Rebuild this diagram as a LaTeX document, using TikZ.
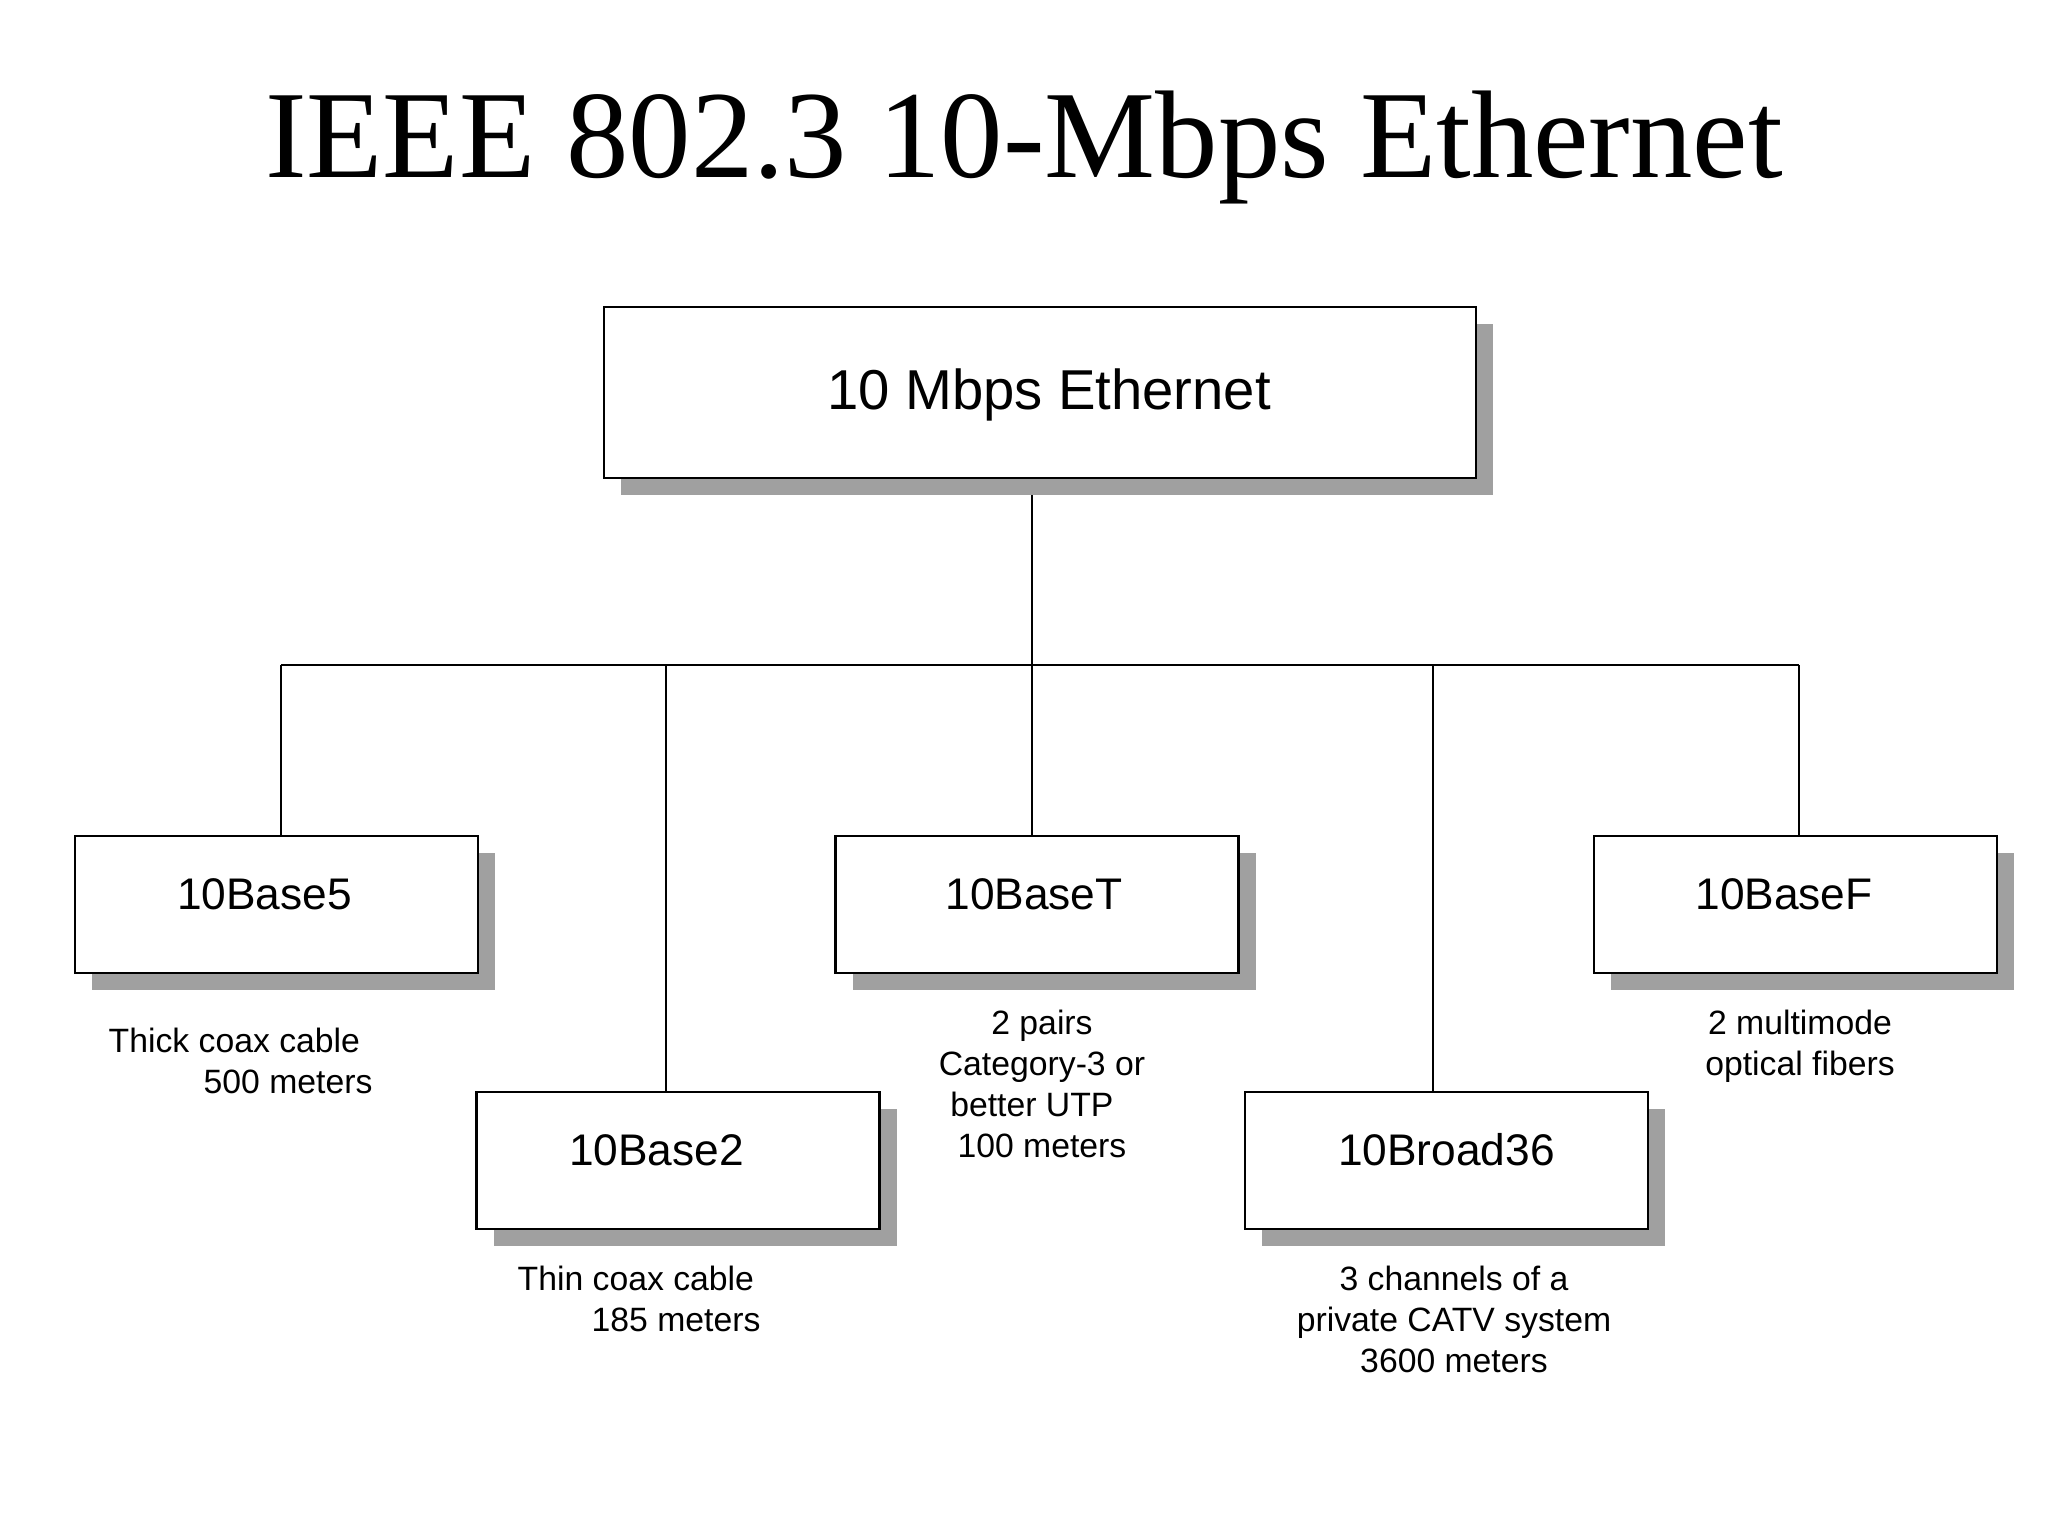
\documentclass[tikz,border=0pt]{standalone}
\usepackage{fontspec}
\setmainfont{Liberation Sans}
\newfontfamily\titlefont{Liberation Serif}
\usetikzlibrary{shadows, backgrounds}
\definecolor{shadowgray}{RGB}{160,160,160}

\begin{document}
\begin{tikzpicture}[x = 0.1mm, y = -0.1mm,
    unitbox/.style = {draw, line width = 0.75pt, fill = white, inner sep = 0pt,
        minimum width = 40.3mm, minimum height = 13.7mm,
        font = \fontsize{12.6}{15}\selectfont, text height = 3.2mm, text depth = 2.3mm,
        general shadow = {fill = shadowgray, shadow xshift = 1.7mm, shadow yshift = -1.7mm}},
    note/.style = {font = \fontsize{9.6}{11.7}\selectfont, inner sep = 0pt},
    wire/.style = {line width = 0.55pt}]

    \useasboundingbox (0, 0) rectangle (2048, 1536);

    % draw title
    \node[anchor = base, font = \titlefont\fontsize{35.5}{40}\selectfont] (title) at (1024, 177) {IEEE 802.3 10-Mbps Ethernet};

    % draw top box
    \node[unitbox, minimum width = 87.2mm, minimum height = 17.1mm, font = \fontsize{16}{19}\selectfont,
        text height = 4.0mm, text depth = 0.7mm] (eth) at (1040, 392.5) {\hspace*{1.8mm}10 Mbps Ethernet};

    % draw first row of boxes
    \node[unitbox] (b5) at (276.5, 904.5) {10Base5\hspace*{2.4mm}};
    \node[unitbox] (bT) at (1037, 904.5) {10BaseT\hspace*{0.6mm}};
    \node[unitbox] (bF) at (1795.5, 904.5) {10BaseF\hspace*{2.3mm}};

    % draw second row of boxes
    \node[unitbox] (b2) at (678, 1160.5) {10Base2\hspace*{4.3mm}};
    \node[unitbox] (b36) at (1446.5, 1160.5) {10Broad36};


    % draw bus and drops
    \coordinate (j5) at (281, 665);
    \coordinate (j2) at (666, 665);
    \coordinate (jT) at (1032, 665);
    \coordinate (j36) at (1433, 665);
    \coordinate (jF) at (1799, 665);

    \begin{scope}[on background layer]
        \draw[wire] (eth.south -| jT) -- (jT);
        \draw[wire] (j5) -- (jF);
        \draw[wire] (j5) -- (j5 |- b5.north);
        \draw[wire] (j2) -- (j2 |- b2.north);
        \draw[wire] (jT) -- (jT |- bT.north);
        \draw[wire] (j36) -- (j36 |- b36.north);
        \draw[wire] (jF) -- (jF |- bF.north);
    \end{scope}


    % draw media notes
    \node[note, anchor = north west, align = left] (n5) at (108, 1027) {Thick coax cable\\\hspace*{9.5mm}500 meters};
    \node[note, anchor = north, align = center] (nT) at (1042, 1009) {2 pairs\\Category-3 or\\better UTP\kern0.6em\\100 meters};
    \node[note, anchor = north, align = center] (nF) at (1800, 1009) {2 multimode\\optical fibers};

    \node[note, anchor = north west, align = left] (n2) at (517, 1265) {Thin coax cable\\\hspace*{7.4mm}185 meters};
    \node[note, anchor = north, align = center] (n36) at (1454, 1265) {3 channels of a\\private CATV system\\3600 meters};

\end{tikzpicture}
\end{document}
